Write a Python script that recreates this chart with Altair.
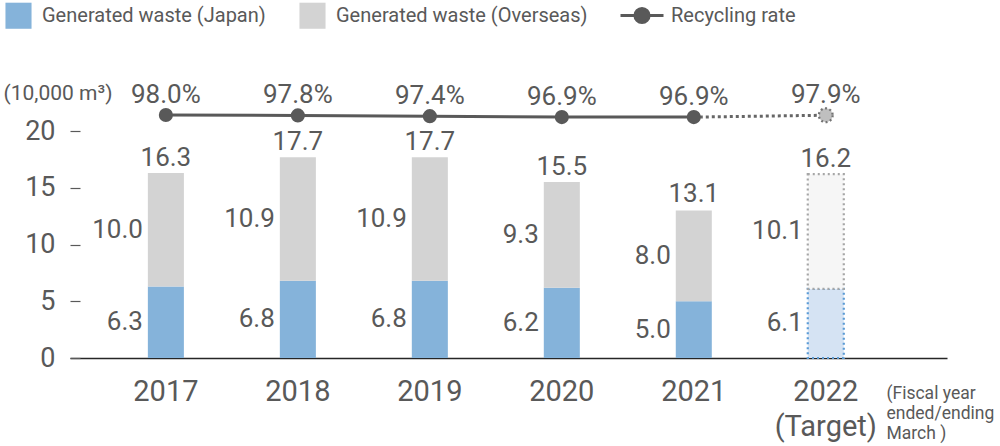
import altair as alt
import pandas as pd

# Fiscal years (ending March) and generated waste, in 10,000 m3
years = ["2017", "2018", "2019", "2020", "2021", "2022"]
japan = [6.3, 6.8, 6.8, 6.2, 5.0, 6.1]
overseas = [10.0, 10.9, 10.9, 9.3, 8.0, 10.1]
totals = [16.3, 17.7, 17.7, 15.5, 13.1, 16.2]
# Recycling rate, %
rates = [98.0, 97.8, 97.4, 96.9, 96.9, 97.9]
target_year = "2022"

JP = "Generated waste (Japan)"
OS = "Generated waste (Overseas)"
RR = "Recycling rate"

FONT = "Roboto"
TXT = "#595959"

rows = []
for y, j, o in zip(years, japan, overseas):
    rows.append({"year": y, "series": JP, "value": j, "start": 0.0, "end": j,
                 "mid": j / 2, "target": y == target_year})
    rows.append({"year": y, "series": OS, "value": o, "start": j, "end": j + o,
                 "mid": j + o / 2, "target": y == target_year})
bars_df = pd.DataFrame(rows)
tot_df = pd.DataFrame({"year": years, "total": totals})
rate_df = pd.DataFrame({"year": years, "rate": rates, "series": RR})

x_scale = alt.Scale(domain=years, paddingInner=0.727, paddingOuter=0.686, align=0.43)
x_enc = alt.X(
    "year:N",
    scale=x_scale,
    sort=years,
    axis=alt.Axis(
        title=["(Fiscal year", "ended/ending", "March )"],
        titleX=816, titleY=26, titleAlign="left", titleBaseline="top",
        titleFontSize=17.5, titleFont=FONT, titleFontWeight="normal",
        titleColor=TXT, titleLineHeight=20,
        labelExpr="datum.value == '2022' ? ['2022', '(Target)'] : datum.value",
        labelFontSize=29, labelFont=FONT, labelColor=TXT, labelLineHeight=35,
        labelPadding=19, labelAngle=0,
        ticks=False, grid=False, domainColor="#262626", domainWidth=1.5,
    ),
)
y_scale = alt.Scale(domain=[0, 23], nice=False, zero=True)
y_enc = alt.Y(
    "start:Q",
    scale=y_scale,
    axis=alt.Axis(
        values=[0, 5, 10, 15, 20], grid=False, domain=False,
        offset=-10, tickSize=10, tickColor=TXT, tickWidth=1.2,
        labelPadding=15, labelFontSize=27, labelFont=FONT, labelColor=TXT,
        title="(10,000 m³)", titleAngle=0, titleX=-77, titleY=-4,
        titleAlign="left", titleBaseline="middle", titleFontSize=21,
        titleFont=FONT, titleFontWeight="normal", titleColor=TXT,
    ),
)

fill_scale = alt.Scale(domain=[JP, OS], range=["#85b3da", "#d3d3d3"])

bars = alt.Chart(bars_df).transform_filter("!datum.target").mark_bar().encode(
    x=x_enc,
    y=y_enc,
    y2="end:Q",
    fill=alt.Fill(
        "series:N", scale=fill_scale,
        legend=alt.Legend(
            orient="none", legendX=-65, legendY=-95, direction="horizontal",
            title=None, symbolType="square", symbolSize=680, symbolStrokeWidth=0,
            labelFontSize=20, labelFont=FONT, labelColor=TXT, labelOffset=10,
            labelLimit=0, columnPadding=33, padding=0,
        ),
    ),
)

target_bars = alt.Chart(bars_df).transform_filter("datum.target").mark_bar(
    strokeWidth=2.2, strokeDash=[2, 3]
).encode(
    x="year:N",
    y="start:Q",
    y2="end:Q",
    fill=alt.condition(alt.datum.series == JP, alt.value("#d5e3f3"), alt.value("#f6f6f6")),
    stroke=alt.condition(alt.datum.series == JP, alt.value("#5b9bd5"), alt.value("#a6a6a6")),
)

seg_labels = alt.Chart(bars_df).mark_text(
    align="right", baseline="middle", dx=-23, fontSize=26, font=FONT, color=TXT
).encode(
    x="year:N",
    y="mid:Q",
    text=alt.Text("value:Q", format=".1f"),
)

tot_labels = alt.Chart(tot_df).mark_text(
    align="center", baseline="middle", dy=-15, fontSize=26, font=FONT, color=TXT
).encode(
    x="year:N",
    y="total:Q",
    text=alt.Text("total:Q", format=".1f"),
)

main = alt.layer(bars, target_bars, seg_labels, tot_labels)

r_scale = alt.Scale(domain=[-30, 107.5], nice=False, zero=False)
r_y = alt.Y("rate:Q", scale=r_scale, axis=None)

actual_years = [y for y in years if y != target_year]

rate_line = alt.Chart(rate_df).transform_filter(
    alt.FieldOneOfPredicate(field="year", oneOf=actual_years)
).mark_line(strokeWidth=3).encode(
    x="year:N",
    y=r_y,
    stroke=alt.Stroke(
        "series:N",
        scale=alt.Scale(domain=[RR], range=["#595959"]),
        legend=alt.Legend(
            orient="none", legendX=549, legendY=-104.5, title=None,
            symbolType="M-1,0L1,0M-0.33,0A0.33,0.33,0,1,0,0.33,0A0.33,0.33,0,1,0,-0.33,0Z",
            symbolSize=1849, symbolStrokeWidth=3, symbolFillColor="#595959",
            labelFontSize=20, labelFont=FONT, labelColor=TXT, labelOffset=6,
            labelLimit=0, padding=0,
        ),
    ),
)

rate_dotted = alt.Chart(rate_df).transform_filter(
    alt.FieldOneOfPredicate(field="year", oneOf=["2021", target_year])
).mark_line(strokeWidth=3, strokeDash=[3, 3], color="#666666").encode(
    x="year:N",
    y=r_y,
)

rate_points = alt.Chart(rate_df).transform_filter(
    alt.FieldOneOfPredicate(field="year", oneOf=actual_years)
).mark_point(filled=True, size=200, opacity=1, color="#595959").encode(
    x="year:N",
    y=r_y,
)

target_point = alt.Chart(rate_df).transform_filter(
    alt.datum.year == target_year
).mark_point(
    filled=False, size=190, fill="#bfbfbf", fillOpacity=1, opacity=1,
    stroke="#737373", strokeWidth=2.2, strokeDash=[2, 2.5]
).encode(
    x="year:N",
    y=r_y,
)

rate_labels = alt.Chart(rate_df).transform_calculate(
    label="format(datum.rate, '.1f') + '%'"
).mark_text(
    align="center", baseline="middle", dy=-20, fontSize=26, font=FONT, color=TXT
).encode(
    x="year:N",
    y=r_y,
    text="label:N",
)

rate = alt.layer(rate_line, rate_dotted, rate_points, target_point, rate_labels)

chart = alt.layer(main, rate).resolve_scale(y="independent").properties(
    width=877,
    height=261,
    background="white",
    autosize=alt.AutoSizeParams(type="none"),
    padding={"left": 70, "top": 97, "right": 53, "bottom": 88},
).configure_view(stroke=None)

chart.save("out.html", embed_options={"renderer": "svg", "actions": False})
